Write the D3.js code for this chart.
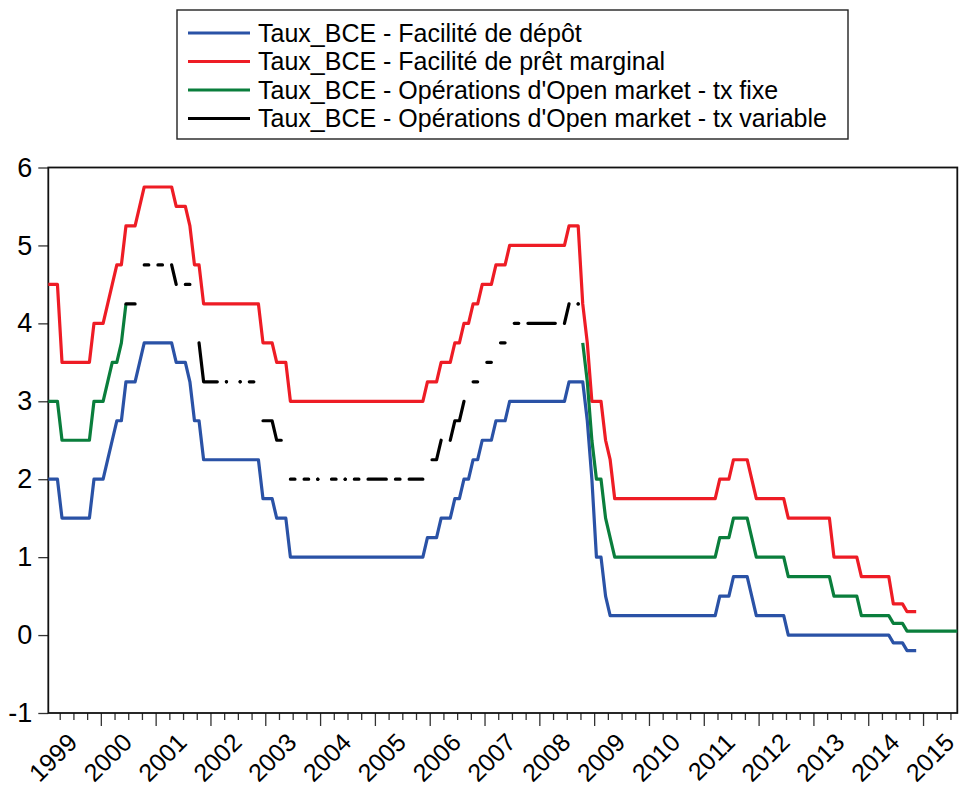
<!DOCTYPE html>
<html>
<head>
<meta charset="utf-8">
<script src="https://cdn.jsdelivr.net/npm/d3@7/dist/d3.min.js"></script>
<style>
  body { margin: 0; background: #fff; }
  svg { display: block; font-family: "Liberation Sans", Arial, sans-serif; }
</style>
</head>
<body>
<svg id="chart" width="959" height="787"></svg>
<script>
// monthly observations, index 0 = 1999M01 ... 199 = 2015M08
var firstYear = 1999;
var nObs = 200;
var yearLabels = ["1999","2000","2001","2002","2003","2004","2005","2006","2007",
                  "2008","2009","2010","2011","2012","2013","2014","2015"];
var yTicks = [-1, 0, 1, 2, 3, 4, 5, 6];

// Taux_BCE - Facilité de dépôt (1999M01 - 2014M11)
var depot = [
  2.0, 2.0, 2.0, 1.5, 1.5, 1.5, 1.5, 1.5, 1.5, 1.5, 2.0, 2.0,           // 1999
  2.0, 2.25, 2.5, 2.75, 2.75, 3.25, 3.25, 3.25, 3.5, 3.75, 3.75, 3.75,  // 2000
  3.75, 3.75, 3.75, 3.75, 3.5, 3.5, 3.5, 3.25, 2.75, 2.75, 2.25, 2.25,  // 2001
  2.25, 2.25, 2.25, 2.25, 2.25, 2.25, 2.25, 2.25, 2.25, 2.25, 2.25, 1.75, // 2002
  1.75, 1.75, 1.5, 1.5, 1.5, 1.0, 1.0, 1.0, 1.0, 1.0, 1.0, 1.0,         // 2003
  1.0, 1.0, 1.0, 1.0, 1.0, 1.0, 1.0, 1.0, 1.0, 1.0, 1.0, 1.0,           // 2004
  1.0, 1.0, 1.0, 1.0, 1.0, 1.0, 1.0, 1.0, 1.0, 1.0, 1.0, 1.25,          // 2005
  1.25, 1.25, 1.5, 1.5, 1.5, 1.75, 1.75, 2.0, 2.0, 2.25, 2.25, 2.5,     // 2006
  2.5, 2.5, 2.75, 2.75, 2.75, 3.0, 3.0, 3.0, 3.0, 3.0, 3.0, 3.0,        // 2007
  3.0, 3.0, 3.0, 3.0, 3.0, 3.0, 3.25, 3.25, 3.25, 3.25, 2.75, 2.0,      // 2008
  1.0, 1.0, 0.5, 0.25, 0.25, 0.25, 0.25, 0.25, 0.25, 0.25, 0.25, 0.25,  // 2009
  0.25, 0.25, 0.25, 0.25, 0.25, 0.25, 0.25, 0.25, 0.25, 0.25, 0.25, 0.25, // 2010
  0.25, 0.25, 0.25, 0.5, 0.5, 0.5, 0.75, 0.75, 0.75, 0.75, 0.5, 0.25,   // 2011
  0.25, 0.25, 0.25, 0.25, 0.25, 0.25, 0, 0, 0, 0, 0, 0,                 // 2012
  0, 0, 0, 0, 0, 0, 0, 0, 0, 0, 0, 0,                                   // 2013
  0, 0, 0, 0, 0, -0.1, -0.1, -0.1, -0.2, -0.2, -0.2                     // 2014
];

// Taux_BCE - Facilité de prêt marginal (1999M01 - 2014M11)
var pretMarginal = [
  4.5, 4.5, 4.5, 3.5, 3.5, 3.5, 3.5, 3.5, 3.5, 3.5, 4.0, 4.0,           // 1999
  4.0, 4.25, 4.5, 4.75, 4.75, 5.25, 5.25, 5.25, 5.5, 5.75, 5.75, 5.75,  // 2000
  5.75, 5.75, 5.75, 5.75, 5.5, 5.5, 5.5, 5.25, 4.75, 4.75, 4.25, 4.25,  // 2001
  4.25, 4.25, 4.25, 4.25, 4.25, 4.25, 4.25, 4.25, 4.25, 4.25, 4.25, 3.75, // 2002
  3.75, 3.75, 3.5, 3.5, 3.5, 3.0, 3.0, 3.0, 3.0, 3.0, 3.0, 3.0,         // 2003
  3.0, 3.0, 3.0, 3.0, 3.0, 3.0, 3.0, 3.0, 3.0, 3.0, 3.0, 3.0,           // 2004
  3.0, 3.0, 3.0, 3.0, 3.0, 3.0, 3.0, 3.0, 3.0, 3.0, 3.0, 3.25,          // 2005
  3.25, 3.25, 3.5, 3.5, 3.5, 3.75, 3.75, 4.0, 4.0, 4.25, 4.25, 4.5,     // 2006
  4.5, 4.5, 4.75, 4.75, 4.75, 5.0, 5.0, 5.0, 5.0, 5.0, 5.0, 5.0,        // 2007
  5.0, 5.0, 5.0, 5.0, 5.0, 5.0, 5.25, 5.25, 5.25, 4.25, 3.75, 3.0,      // 2008
  3.0, 3.0, 2.5, 2.25, 1.75, 1.75, 1.75, 1.75, 1.75, 1.75, 1.75, 1.75,  // 2009
  1.75, 1.75, 1.75, 1.75, 1.75, 1.75, 1.75, 1.75, 1.75, 1.75, 1.75, 1.75, // 2010
  1.75, 1.75, 1.75, 2.0, 2.0, 2.0, 2.25, 2.25, 2.25, 2.25, 2.0, 1.75,   // 2011
  1.75, 1.75, 1.75, 1.75, 1.75, 1.75, 1.5, 1.5, 1.5, 1.5, 1.5, 1.5,     // 2012
  1.5, 1.5, 1.5, 1.5, 1.0, 1.0, 1.0, 1.0, 1.0, 1.0, 0.75, 0.75,         // 2013
  0.75, 0.75, 0.75, 0.75, 0.75, 0.4, 0.4, 0.4, 0.3, 0.3, 0.3            // 2014
];

// Taux_BCE - Opérations d'Open market - tx fixe (1999M01 - 2015M08)
var txFixe = [
  3.0, 3.0, 3.0, 2.5, 2.5, 2.5, 2.5, 2.5, 2.5, 2.5, 3.0, 3.0,           // 1999
  3.0, 3.25, 3.5, 3.5, 3.75, 4.25, null, null, null, null, null, null,  // 2000
  null, null, null, null, null, null, null, null, null, null, null, null, // 2001
  null, null, null, null, null, null, null, null, null, null, null, null, // 2002
  null, null, null, null, null, null, null, null, null, null, null, null, // 2003
  null, null, null, null, null, null, null, null, null, null, null, null, // 2004
  null, null, null, null, null, null, null, null, null, null, null, null, // 2005
  null, null, null, null, null, null, null, null, null, null, null, null, // 2006
  null, null, null, null, null, null, null, null, null, null, null, null, // 2007
  null, null, null, null, null, null, null, null, null, 3.75, 3.25, 2.5, // 2008
  2.0, 2.0, 1.5, 1.25, 1.0, 1.0, 1.0, 1.0, 1.0, 1.0, 1.0, 1.0,         // 2009
  1.0, 1.0, 1.0, 1.0, 1.0, 1.0, 1.0, 1.0, 1.0, 1.0, 1.0, 1.0,           // 2010
  1.0, 1.0, 1.0, 1.25, 1.25, 1.25, 1.5, 1.5, 1.5, 1.5, 1.25, 1.0,       // 2011
  1.0, 1.0, 1.0, 1.0, 1.0, 1.0, 0.75, 0.75, 0.75, 0.75, 0.75, 0.75,     // 2012
  0.75, 0.75, 0.75, 0.75, 0.5, 0.5, 0.5, 0.5, 0.5, 0.5, 0.25, 0.25,     // 2013
  0.25, 0.25, 0.25, 0.25, 0.25, 0.15, 0.15, 0.15, 0.05, 0.05, 0.05, 0.05, // 2014
  0.05, 0.05, 0.05, 0.05, 0.05, 0.05, 0.05, 0.05                         // 2015
];

// Taux_BCE - Opérations d'Open market - tx variable (gaps = missing months)
var txVariable = [
  null, null, null, null, null, null, null, null, null, null, null, null, // 1999
  null, null, null, null, null, 4.25, 4.25, 4.25, null, 4.75, 4.75, null, // 2000
  4.75, 4.75, null, 4.75, 4.5, null, 4.5, 4.5, null, 3.75, 3.25, 3.25,  // 2001
  3.25, 3.25, null, 3.25, null, null, 3.25, null, 3.25, 3.25, null, 2.75, // 2002
  2.75, 2.75, 2.5, 2.5, null, 2.0, 2.0, null, 2.0, 2.0, null, 2.0,      // 2003
  null, null, 2.0, 2.0, null, 2.0, null, 2.0, 2.0, null, 2.0, 2.0,      // 2004
  2.0, 2.0, 2.0, null, 2.0, 2.0, null, 2.0, 2.0, 2.0, 2.0, null,        // 2005
  2.25, 2.25, 2.5, null, 2.5, 2.75, 2.75, 3.0, null, 3.25, 3.25, null,  // 2006
  3.5, 3.5, null, 3.75, 3.75, null, 4.0, 4.0, null, 4.0, 4.0, 4.0,      // 2007
  4.0, 4.0, 4.0, 4.0, null, 4.0, 4.25, null, 4.25                       // 2008
];

var series = [
  { name: "Taux_BCE - Facilité de dépôt", values: depot, color: "#2a52a6" },
  { name: "Taux_BCE - Facilité de prêt marginal", values: pretMarginal, color: "#ee1c25" },
  { name: "Taux_BCE - Opérations d'Open market - tx fixe", values: txFixe, color: "#0a7e3c" },
  { name: "Taux_BCE - Opérations d'Open market - tx variable", values: txVariable, color: "#000000" }
];

var svg = d3.select("#chart");

var x = d3.scaleLinear()
    .domain([0, nObs - 1])
    .range([48.3, 957.3]);

var y = d3.scaleLinear()
    .domain([-1, 6])
    .range([713, 167.5]);

// ticks sit between Dec and Jan / between quarters
var majorTicks = d3.range(1, yearLabels.length).map(function(k){ return 12 * k - 0.5; });
var minorTicks = d3.range(1, 67).map(function(k){ return 3 * k - 0.5; })
    .filter(function(v){ return (v + 0.5) % 12 !== 0 && v < nObs; });
var labelPos = yearLabels.map(function(d, k){ return 12 * k + 7; });

// y axis
var yAxis = svg.append("g")
    .attr("transform", "translate(48.3,0)")
    .call(d3.axisLeft(y).tickValues(yTicks).tickSize(10).tickPadding(6)
      .tickFormat(function(d){ return String(d); }));
yAxis.select(".domain").remove();
yAxis.selectAll("line").attr("stroke", "#333").attr("stroke-width", 1.3);
yAxis.selectAll("text").style("font-size", "27px").attr("fill", "#000");

// x axis: major and minor ticks
var xMajor = svg.append("g")
    .attr("transform", "translate(0,713)")
    .call(d3.axisBottom(x).tickValues(majorTicks).tickSize(13).tickFormat(""));
var xMinor = svg.append("g")
    .attr("transform", "translate(0,713)")
    .call(d3.axisBottom(x).tickValues(minorTicks).tickSize(7).tickFormat(""));
[xMajor, xMinor].forEach(function(g){
  g.select(".domain").remove();
  g.selectAll("line").attr("stroke", "#333").attr("stroke-width", 1.3);
});

// x axis labels (rotated years)
var xLab = svg.append("g")
    .attr("transform", "translate(0,713)")
    .call(d3.axisBottom(x).tickValues(labelPos).tickSize(0)
      .tickFormat(function(d, i){ return yearLabels[i]; }));
xLab.select(".domain").remove();
xLab.selectAll("text")
    .attr("x", 0).attr("y", 0).attr("dy", 0)
    .attr("text-anchor", "end")
    .attr("transform", "translate(-2,31) rotate(-45)")
    .attr("fill", "#000")
    .style("font-size", "25px");

// plot frame
svg.append("rect")
    .attr("x", x(0)).attr("y", y(6))
    .attr("width", x(nObs - 1) - x(0))
    .attr("height", y(-1) - y(6))
    .attr("fill", "none")
    .attr("stroke", "#111")
    .attr("stroke-width", 1.8);

var line = d3.line()
    .defined(function(d){ return d != null; })
    .x(function(d, i){ return x(i); })
    .y(function(d){ return y(d); });

var plot = svg.append("g");
series.forEach(function(s){
  plot.append("path")
      .datum(s.values)
      .attr("fill", "none")
      .attr("stroke", s.color)
      .attr("stroke-width", 3.2)
      .attr("stroke-linejoin", "round")
      .attr("stroke-linecap", s.color === "#000000" ? "round" : "butt")
      .attr("d", line);
  // isolated observations are drawn as dots
  var lonely = s.values.map(function(v, i){ return { v: v, i: i }; })
      .filter(function(o){
        return o.v != null && s.values[o.i - 1] == null && s.values[o.i + 1] == null;
      });
  plot.selectAll(null)
      .data(lonely)
      .enter().append("circle")
      .attr("cx", function(o){ return x(o.i); })
      .attr("cy", function(o){ return y(o.v); })
      .attr("r", 1.7)
      .attr("fill", s.color);
});

// legend
var legend = svg.append("g");
legend.append("rect")
    .attr("x", 177).attr("y", 10)
    .attr("width", 671).attr("height", 129)
    .attr("fill", "#fff")
    .attr("stroke", "#222")
    .attr("stroke-width", 1.4);
var rows = legend.selectAll("g.row")
    .data(series)
    .enter().append("g")
    .attr("class", "row")
    .attr("transform", function(d, i){ return "translate(0," + (33 + i * 28.5) + ")"; });
rows.append("line")
    .attr("x1", 188).attr("x2", 250)
    .attr("stroke", function(d){ return d.color; })
    .attr("stroke-width", 3.2);
rows.append("text")
    .attr("x", 258)
    .attr("dy", "0.35em")
    .style("font-size", "25px")
    .text(function(d){ return d.name; });
</script>
</body>
</html>
